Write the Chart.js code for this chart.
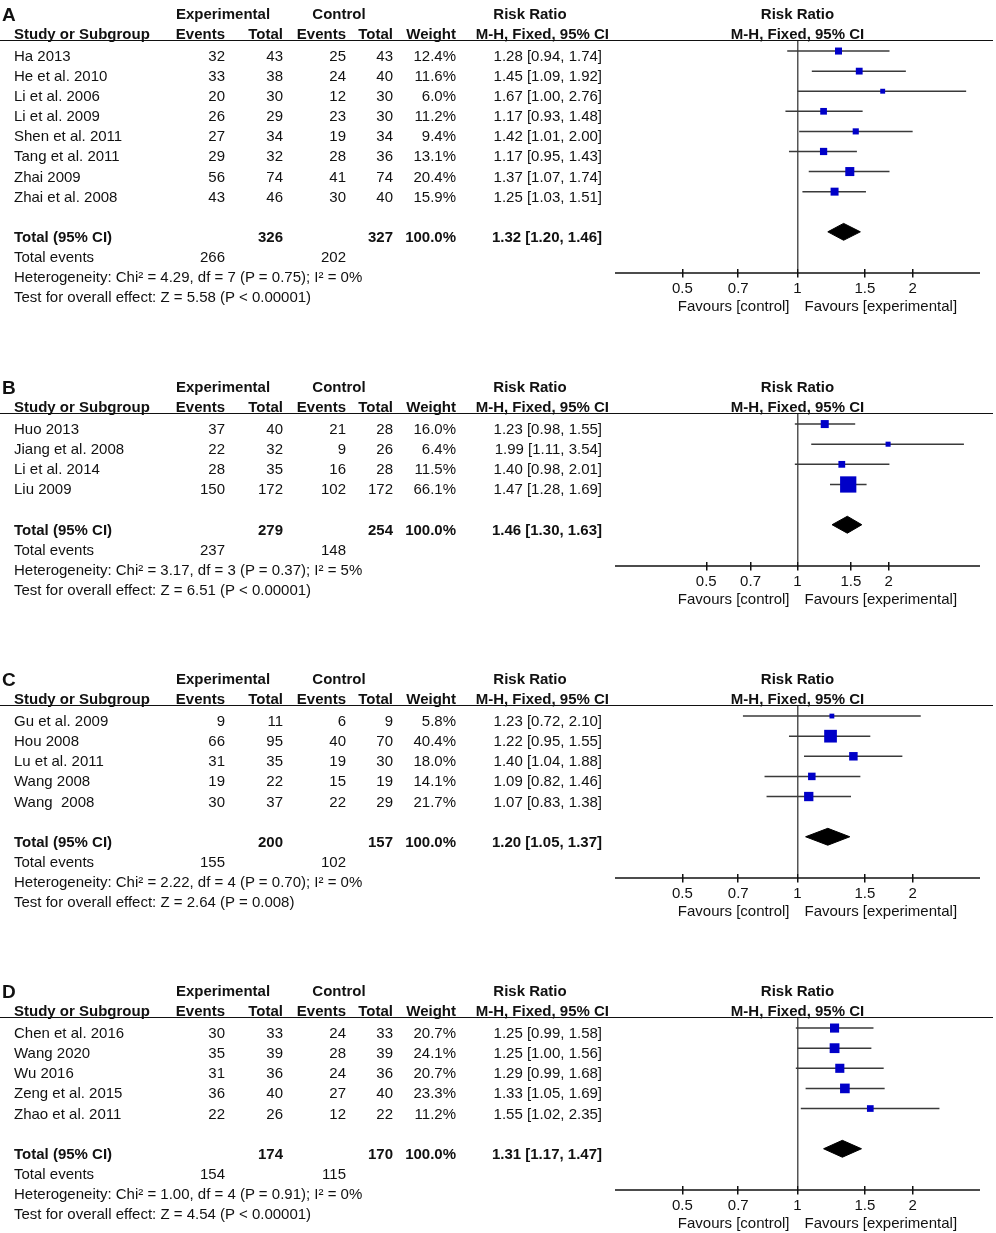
<!DOCTYPE html>
<html>
<head>
<meta charset="utf-8">
<title>Forest plots A-D</title>
<script src="https://cdn.jsdelivr.net/npm/chart.js@4.4.1/dist/chart.umd.min.js"></script>
<style>
	html, body { margin: 0; padding: 0; background: #fff; }
	#figure { position: relative; width: 996px; height: 1233px; overflow: hidden;
		font-family: "Liberation Sans", Arial, sans-serif; color: #111; }
	.panel { position: absolute; left: 0; width: 996px; }
	.panel canvas { position: absolute; left: 0; top: 0; }
	.txt { position: absolute; white-space: pre; font-size: 15px; }
	.b { font-weight: bold; }
	.rule { position: absolute; left: 0; width: 993px; height: 0; border-top: 1.5px solid #111; }
</style>
</head>
<body>
<div id="figure">
	<div class="panel" id="panelA" style="top:0px"><canvas id="chartA"></canvas></div>
	<div class="panel" id="panelB" style="top:373px"><canvas id="chartB"></canvas></div>
	<div class="panel" id="panelC" style="top:665px"><canvas id="chartC"></canvas></div>
	<div class="panel" id="panelD" style="top:977px"><canvas id="chartD"></canvas></div>
</div>
<script>
// ---- panel A
var studiesA = ['Ha 2013', 'He et al. 2010', 'Li et al. 2006', 'Li et al. 2009', 'Shen et al. 2011', 'Tang et al. 2011', 'Zhai 2009', 'Zhai et al. 2008'];
var expEventsA = [32, 33, 20, 26, 27, 29, 56, 43];
var expTotalA = [43, 38, 30, 29, 34, 32, 74, 46];
var ctlEventsA = [25, 24, 12, 23, 19, 28, 41, 30];
var ctlTotalA = [43, 40, 30, 30, 34, 36, 74, 40];
var weightA = [12.4, 11.6, 6.0, 11.2, 9.4, 13.1, 20.4, 15.9];
var rrA = [1.28, 1.45, 1.67, 1.17, 1.42, 1.17, 1.37, 1.25];
var lowerA = [0.94, 1.09, 1.00, 0.93, 1.01, 0.95, 1.07, 1.03];
var upperA = [1.74, 1.92, 2.76, 1.48, 2.00, 1.43, 1.74, 1.51];
var totalNA = [326, 327];
var totalEventsA = [266, 202];
var pooledA = [1.32, 1.20, 1.46];
var heteroA = 'Heterogeneity: Chi\u00b2 = 4.29, df = 7 (P = 0.75); I\u00b2 = 0%';
var overallA = 'Test for overall effect: Z = 5.58 (P < 0.00001)';
var rangeA = [1 / 3, 3];

// ---- panel B
var studiesB = ['Huo 2013', 'Jiang et al. 2008', 'Li et al. 2014', 'Liu 2009'];
var expEventsB = [37, 22, 28, 150];
var expTotalB = [40, 32, 35, 172];
var ctlEventsB = [21, 9, 16, 102];
var ctlTotalB = [28, 26, 28, 172];
var weightB = [16.0, 6.4, 11.5, 66.1];
var rrB = [1.23, 1.99, 1.40, 1.47];
var lowerB = [0.98, 1.11, 0.98, 1.28];
var upperB = [1.55, 3.54, 2.01, 1.69];
var totalNB = [279, 254];
var totalEventsB = [237, 148];
var pooledB = [1.46, 1.30, 1.63];
var heteroB = 'Heterogeneity: Chi\u00b2 = 3.17, df = 3 (P = 0.37); I\u00b2 = 5%';
var overallB = 'Test for overall effect: Z = 6.51 (P < 0.00001)';
var rangeB = [0.25, 4];

// ---- panel C
var studiesC = ['Gu et al. 2009', 'Hou 2008', 'Lu et al. 2011', 'Wang 2008', 'Wang  2008'];
var expEventsC = [9, 66, 31, 19, 30];
var expTotalC = [11, 95, 35, 22, 37];
var ctlEventsC = [6, 40, 19, 15, 22];
var ctlTotalC = [9, 70, 30, 19, 29];
var weightC = [5.8, 40.4, 18.0, 14.1, 21.7];
var rrC = [1.23, 1.22, 1.40, 1.09, 1.07];
var lowerC = [0.72, 0.95, 1.04, 0.82, 0.83];
var upperC = [2.10, 1.55, 1.88, 1.46, 1.38];
var totalNC = [200, 157];
var totalEventsC = [155, 102];
var pooledC = [1.20, 1.05, 1.37];
var heteroC = 'Heterogeneity: Chi\u00b2 = 2.22, df = 4 (P = 0.70); I\u00b2 = 0%';
var overallC = 'Test for overall effect: Z = 2.64 (P = 0.008)';
var rangeC = [1 / 3, 3];

// ---- panel D
var studiesD = ['Chen et al. 2016', 'Wang 2020', 'Wu 2016', 'Zeng et al. 2015', 'Zhao et al. 2011'];
var expEventsD = [30, 35, 31, 36, 22];
var expTotalD = [33, 39, 36, 40, 26];
var ctlEventsD = [24, 28, 24, 27, 12];
var ctlTotalD = [33, 39, 36, 40, 22];
var weightD = [20.7, 24.1, 20.7, 23.3, 11.2];
var rrD = [1.25, 1.25, 1.29, 1.33, 1.55];
var lowerD = [0.99, 1.00, 0.99, 1.05, 1.02];
var upperD = [1.58, 1.56, 1.68, 1.69, 2.35];
var totalND = [174, 170];
var totalEventsD = [154, 115];
var pooledD = [1.31, 1.17, 1.47];
var heteroD = 'Heterogeneity: Chi\u00b2 = 1.00, df = 4 (P = 0.91); I\u00b2 = 0%';
var overallD = 'Test for overall effect: Z = 4.54 (P < 0.00001)';
var rangeD = [1 / 3, 3];

var tickValues = [0.5, 0.7, 1, 1.5, 2];

// layout (pixels)
var ROW = 20.1;
var PAD_TOP = 41;
var PAD_LEFT = 615;
var PAD_RIGHT = 16;
var AXIS_H = 34;
var TICK_UP = 4;
var TEXT_DY = 5;
var DIAMOND_H = 0.42;
var COL = { name: 14, expEv: 225, expTot: 283, ctlEv: 346, ctlTot: 393, weight: 456, ci: 602, ciHead: 609,
	expHead: 223, ctlHead: 339, rrHead: 530 };

Chart.defaults.font.family = '"Liberation Sans", Arial, sans-serif';
Chart.defaults.font.size = 15;
Chart.defaults.color = '#111';

function ciText(r, lo, hi) {
	return r.toFixed(2) + ' [' + lo.toFixed(2) + ', ' + hi.toFixed(2) + ']';
}

function addText(panel, str, x, y, align, bold, size) {
	var d = document.createElement('div');
	var fs = size || 15;
	var h = Math.round(fs * 1.3);
	d.className = 'txt' + (bold ? ' b' : '');
	d.textContent = str;
	d.style.fontSize = fs + 'px';
	d.style.height = h + 'px';
	d.style.lineHeight = h + 'px';
	d.style.top = (y - h / 2) + 'px';
	if (align === 'left') {
		d.style.left = x + 'px';
	} else if (align === 'right') {
		d.style.left = (x - 400) + 'px';
		d.style.width = '400px';
		d.style.textAlign = 'right';
	} else {
		d.style.left = (x - 200) + 'px';
		d.style.width = '400px';
		d.style.textAlign = 'center';
	}
	panel.appendChild(d);
}

function drawPanel(p) {
	var n = p.studies.length;
	var totalRow = n + 1;
	var axisRow = n + 3.05;
	var yMin = -0.5;
	var yMax = axisRow - TICK_UP / ROW;
	var canvas = document.getElementById(p.canvasId);
	canvas.width = 996;
	canvas.height = Math.round(PAD_TOP + (yMax - yMin) * ROW + AXIS_H);

	var datasets = [];
	// study squares, area follows weight
	datasets.push({
		data: p.rr.map(function(v, i) { return { x: v, y: i }; }),
		pointStyle: 'rect',
		pointRadius: p.weight.map(function(w) { return Math.sqrt(2 * w); }),
		pointBackgroundColor: '#0000c8',
		pointBorderWidth: 0,
		showLine: false
	});
	// pooled diamond
	datasets.push({
		data: [
			{ x: p.pooled[1], y: totalRow },
			{ x: p.pooled[0], y: totalRow - DIAMOND_H },
			{ x: p.pooled[2], y: totalRow },
			{ x: p.pooled[0], y: totalRow + DIAMOND_H },
			{ x: p.pooled[1], y: totalRow }
		],
		showLine: true,
		fill: 'shape',
		backgroundColor: '#000',
		borderColor: '#000',
		borderWidth: 1,
		pointRadius: 0
	});
	// confidence intervals
	p.lower.forEach(function(lo, i) {
		datasets.push({
			data: [{ x: lo, y: i }, { x: p.upper[i], y: i }],
			showLine: true,
			borderColor: '#3a3a3a',
			borderWidth: 1.5,
			pointRadius: 0
		});
	});
	// axis line
	datasets.push({
		data: [{ x: p.range[0], y: axisRow }, { x: p.range[1], y: axisRow }],
		showLine: true,
		borderColor: '#111',
		borderWidth: 1.5,
		pointRadius: 0,
		clip: { left: 1, right: 1, top: 0, bottom: 8 }
	});

	var chart = new Chart(canvas.getContext('2d'), {
		type: 'scatter',
		data: { datasets: datasets },
		options: {
			responsive: false,
			animation: false,
			events: [],
			layout: { padding: { left: PAD_LEFT, right: PAD_RIGHT, top: PAD_TOP, bottom: 0 } },
			plugins: { legend: { display: false }, tooltip: { enabled: false } },
			scales: {
				x: {
					type: 'logarithmic',
					bounds: 'data',
					min: p.range[0],
					max: p.range[1],
					position: 'bottom',
					border: { display: false },
					grid: {
						color: function(c) { return c.tick && c.tick.value === 1 ? '#555' : 'rgba(0,0,0,0)'; },
						lineWidth: 1.5,
						tickColor: '#111',
						tickLength: TICK_UP + 4.5
					},
					ticks: {
						autoSkip: false,
						maxRotation: 0,
						padding: 2,
						color: '#111',
						font: { size: 15 },
						callback: function(v) { return String(v); }
					},
					afterBuildTicks: function(s) {
						s.ticks = tickValues.map(function(v) { return { value: v }; });
						s.min = p.range[0];
						s.max = p.range[1];
					},
					afterFit: function(s) {
						s.height = AXIS_H;
						s.paddingLeft = 0;
						s.paddingRight = 0;
					}
				},
				y: { type: 'linear', reverse: true, min: yMin, max: yMax, display: false }
			}
		}
	});

	var xs = chart.scales.x;
	var ys = chart.scales.y;
	var panel = document.getElementById(p.panelId);
	var y0 = ys.getPixelForValue(0);
	var h1 = y0 - 37;
	var h2 = y0 - 17;
	var plotMid = (xs.left + xs.right) / 2;
	function rowY(r) { return ys.getPixelForValue(r) + TEXT_DY; }

	addText(panel, p.label, 2, 14, 'left', true, 19);

	addText(panel, 'Experimental', COL.expHead, h1, 'center', true);
	addText(panel, 'Control', COL.ctlHead, h1, 'center', true);
	addText(panel, 'Risk Ratio', COL.rrHead, h1, 'center', true);
	addText(panel, 'Risk Ratio', plotMid, h1, 'center', true);

	addText(panel, 'Study or Subgroup', COL.name, h2, 'left', true);
	addText(panel, 'Events', COL.expEv, h2, 'right', true);
	addText(panel, 'Total', COL.expTot, h2, 'right', true);
	addText(panel, 'Events', COL.ctlEv, h2, 'right', true);
	addText(panel, 'Total', COL.ctlTot, h2, 'right', true);
	addText(panel, 'Weight', COL.weight, h2, 'right', true);
	addText(panel, 'M-H, Fixed, 95% CI', COL.ciHead, h2, 'right', true);
	addText(panel, 'M-H, Fixed, 95% CI', plotMid, h2, 'center', true);

	var rule = document.createElement('div');
	rule.className = 'rule';
	rule.style.top = (ys.getPixelForValue(-0.5) - 0.75) + 'px';
	panel.appendChild(rule);

	p.studies.forEach(function(name, i) {
		var ty = rowY(i);
		addText(panel, name, COL.name, ty, 'left');
		addText(panel, String(p.expEvents[i]), COL.expEv, ty, 'right');
		addText(panel, String(p.expTotal[i]), COL.expTot, ty, 'right');
		addText(panel, String(p.ctlEvents[i]), COL.ctlEv, ty, 'right');
		addText(panel, String(p.ctlTotal[i]), COL.ctlTot, ty, 'right');
		addText(panel, p.weight[i].toFixed(1) + '%', COL.weight, ty, 'right');
		addText(panel, ciText(p.rr[i], p.lower[i], p.upper[i]), COL.ci, ty, 'right');
	});

	var ty = rowY(totalRow);
	addText(panel, 'Total (95% CI)', COL.name, ty, 'left', true);
	addText(panel, String(p.totalN[0]), COL.expTot, ty, 'right', true);
	addText(panel, String(p.totalN[1]), COL.ctlTot, ty, 'right', true);
	addText(panel, '100.0%', COL.weight, ty, 'right', true);
	addText(panel, ciText(p.pooled[0], p.pooled[1], p.pooled[2]), COL.ci, ty, 'right', true);

	ty = rowY(totalRow + 1);
	addText(panel, 'Total events', COL.name, ty, 'left');
	addText(panel, String(p.totalEvents[0]), COL.expEv, ty, 'right');
	addText(panel, String(p.totalEvents[1]), COL.ctlEv, ty, 'right');

	addText(panel, p.hetero, COL.name, rowY(totalRow + 2), 'left');
	addText(panel, p.overall, COL.name, rowY(totalRow + 3), 'left');

	var axisY = ys.getPixelForValue(axisRow);
	var x1 = xs.getPixelForValue(1);
	addText(panel, 'Favours [control]', x1 - 8, axisY + 33, 'right');
	addText(panel, 'Favours [experimental]', x1 + 7, axisY + 33, 'left');
}

drawPanel({ panelId: 'panelA', canvasId: 'chartA', label: 'A', studies: studiesA,
	expEvents: expEventsA, expTotal: expTotalA, ctlEvents: ctlEventsA, ctlTotal: ctlTotalA,
	weight: weightA, rr: rrA, lower: lowerA, upper: upperA, totalN: totalNA,
	totalEvents: totalEventsA, pooled: pooledA, hetero: heteroA, overall: overallA, range: rangeA });
drawPanel({ panelId: 'panelB', canvasId: 'chartB', label: 'B', studies: studiesB,
	expEvents: expEventsB, expTotal: expTotalB, ctlEvents: ctlEventsB, ctlTotal: ctlTotalB,
	weight: weightB, rr: rrB, lower: lowerB, upper: upperB, totalN: totalNB,
	totalEvents: totalEventsB, pooled: pooledB, hetero: heteroB, overall: overallB, range: rangeB });
drawPanel({ panelId: 'panelC', canvasId: 'chartC', label: 'C', studies: studiesC,
	expEvents: expEventsC, expTotal: expTotalC, ctlEvents: ctlEventsC, ctlTotal: ctlTotalC,
	weight: weightC, rr: rrC, lower: lowerC, upper: upperC, totalN: totalNC,
	totalEvents: totalEventsC, pooled: pooledC, hetero: heteroC, overall: overallC, range: rangeC });
drawPanel({ panelId: 'panelD', canvasId: 'chartD', label: 'D', studies: studiesD,
	expEvents: expEventsD, expTotal: expTotalD, ctlEvents: ctlEventsD, ctlTotal: ctlTotalD,
	weight: weightD, rr: rrD, lower: lowerD, upper: upperD, totalN: totalND,
	totalEvents: totalEventsD, pooled: pooledD, hetero: heteroD, overall: overallD, range: rangeD });
</script>
</body>
</html>
